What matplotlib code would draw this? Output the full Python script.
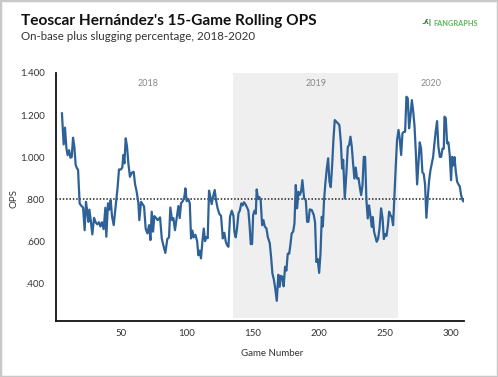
import matplotlib
matplotlib.use("Agg")
import matplotlib.pyplot as plt
from matplotlib.patches import Rectangle

plt.rcParams['font.family'] = ['Lato', 'DejaVu Sans']

games = [5.5, 6.8, 7.8, 8.9, 9.8, 10.9, 11.9, 12.9, 13.9, 14.9, 15.9, 16.9, 17.7, 18.9, 20.2, 21.5, 22.7, 23.7, 24.7, 25.5,
         26.3, 27.3, 28.5, 29.8, 31, 32.3, 33.5, 34.6, 35.8, 37.1, 38.4, 39.1, 40.4, 41.4, 42.4, 43.4, 44.7,
         46.7, 47.7, 48.7, 50.2, 51.2, 52, 52.8, 53.8, 54.8, 55.8, 57, 58.3, 59.8, 60.9, 62.1, 63.4, 64.1, 65.4,
         66.7, 67.7, 68.9, 70.2, 71.5, 72.5, 73.5, 74.5, 75.5, 76.8, 78, 79.8, 81.1, 82.3, 83.8, 85.3, 86.6,
         87.6, 88.9, 89.9, 91.1, 92.4, 93.7, 94.7, 95.7, 97, 98.2, 99, 100, 101.3, 102.3, 103.3, 104.3, 105.3,
         106.6, 107.9, 108.8, 109.8, 110.8, 111.9, 112.9, 113.9, 114.9, 115.9, 116.9, 117.9, 118.9, 119.9,
         121.2, 122.2, 123.4, 124.7, 126, 127.3, 128.5, 129.5, 130.5, 131.6, 132.8, 134.1, 135.4,
         136.1, 137.1, 138.1, 139.2, 140.2, 141.4, 142.4, 143.4, 144.5, 145.7, 146.7, 147.7, 148.5, 149.5,
         150.3, 151.3, 152.3, 153, 154, 155, 156, 157.1, 158.1, 159.1, 160.4, 161.4, 162.9, 163.9, 164.9,
         165.9, 166.9, 168.2, 169.4, 170.4, 171.4, 172.4, 173.4, 174.5, 175.5, 176.5, 177.6, 178.5, 179.5,
         180.6, 181.6, 182.6, 183.6, 184.6, 185.6, 186.6, 187.6, 188.9, 190.2, 191.2, 192.2, 193.2, 194.7,
         196.2, 197.2, 198.2, 199.2, 200.3, 201.3, 202.3, 203.1, 204, 205, 206.1, 207.1, 208.1, 209.1,
         210.1, 211.1, 212.1, 213.4, 214.6, 215.6, 216.7, 217.7, 218.5, 219.7, 220.9, 222, 223, 224, 225,
         226, 227, 228, 229, 230.1, 231.1, 232.1, 233.1, 234.1, 235.1, 236.1, 237.1, 238.1, 239.1, 240.2,
         240.9, 241.9, 242.9, 243.9, 244.9, 246, 247.2, 248.3, 249.3, 250.3, 251.3, 252.3, 253.3, 254.3,
         255.3, 256.3, 257.3, 258.3, 259.3, 260.4, 261.3, 262.4, 263.4, 264.4, 265.4, 266.4, 267.4, 268.4,
         269.4, 270.5, 271.5, 272.5, 273.5, 274.5, 275.5, 276.5, 277.5, 278.5, 279.5, 280.5, 281.5, 282.6,
         283.6, 284.6, 285.6, 286.6, 287.6, 288.6, 289.6, 290.6, 291.7, 292.7, 293.7, 294.7, 295.2, 296.2,
         297.2, 298.2, 299.2, 300.2, 301, 301.8, 302.8, 303.8, 304.8, 305.8, 306.8, 307.8, 308.9, 309.5]

ops = [1.208, 1.06, 1.14, 1.041, 1.009, 1.033, 0.997, 1.00, 1.092, 1.049, 0.962, 0.946, 0.94, 0.779, 0.768, 0.76, 0.652, 0.787, 0.74, 0.692,
       0.75, 0.70, 0.632, 0.711, 0.69, 0.68, 0.69, 0.67, 0.69, 0.657, 0.759, 0.621, 0.78, 0.75, 0.795, 0.72, 0.676,
       0.795, 0.859, 0.941, 0.941, 0.95, 1.01, 0.97, 1.089, 1.05, 0.97, 0.906, 0.925, 0.93, 0.87, 0.835, 0.78, 0.70, 0.787,
       0.775, 0.765, 0.66, 0.637, 0.676, 0.605, 0.74, 0.645, 0.719, 0.71, 0.70, 0.713, 0.613, 0.58, 0.544, 0.61, 0.618,
       0.76, 0.70, 0.71, 0.652, 0.71, 0.767, 0.71, 0.78, 0.79, 0.81, 0.851, 0.79, 0.80, 0.78, 0.613, 0.65, 0.618,
       0.63, 0.60, 0.533, 0.555, 0.518, 0.60, 0.66, 0.60, 0.62, 0.614, 0.84, 0.81, 0.776, 0.81,
       0.843, 0.795, 0.756, 0.73, 0.72, 0.613, 0.64, 0.60, 0.581, 0.573, 0.716, 0.745, 0.72,
       0.645, 0.618, 0.66, 0.732, 0.745, 0.78, 0.77, 0.785, 0.775, 0.76, 0.745, 0.668, 0.586, 0.586,
       0.724, 0.745, 0.73, 0.846, 0.80, 0.81, 0.795, 0.676, 0.70, 0.67, 0.66, 0.62, 0.59, 0.525, 0.446,
       0.42, 0.382, 0.316, 0.44, 0.383, 0.435, 0.43, 0.385, 0.478, 0.46, 0.54, 0.54, 0.581, 0.637,
       0.645, 0.684, 0.867, 0.756, 0.835, 0.82, 0.835, 0.89, 0.803, 0.795, 0.692, 0.692, 0.751, 0.748,
       0.725, 0.69, 0.501, 0.515, 0.449, 0.54, 0.716, 0.67, 0.795, 0.875, 0.946, 0.994, 0.883, 0.857,
       0.955, 1.081, 1.176, 1.168, 1.16, 1.152, 1.073, 0.946, 0.987, 0.803, 0.92, 1.049, 1.057, 1.097, 1.05,
       0.97, 0.898, 0.95, 0.898, 0.90, 0.857, 0.819, 0.865, 1.001, 1.001, 0.795, 0.708, 0.77, 0.72, 0.668,
       0.715, 0.644, 0.62, 0.597, 0.61, 0.66, 0.756, 0.71, 0.61, 0.633, 0.625, 0.67, 0.74, 0.724,
       0.715, 0.676, 0.82, 0.954, 1.081, 1.129, 1.089, 1.01, 1.113, 1.12, 1.12, 1.287, 1.28, 1.137,
       1.19, 1.271, 1.22, 1.15, 1.025, 0.87, 0.97, 1.07, 1.04, 0.927, 0.92, 0.87, 0.711, 0.811,
       0.89, 0.938, 0.97, 1.0, 1.065, 1.124, 1.171, 1.05, 1.001, 1.001, 1.04, 1.04, 1.192, 1.185,
       1.065, 1.07, 1.01, 0.89, 1.001, 0.96, 1.0, 0.93, 0.883, 0.87, 0.86, 0.819, 0.795, 0.79]

season_labels = ['2018', '2019', '2020']
season_label_x = [70.5, 197.7, 284.8]
span_2019 = [135, 260]
league_avg = 0.8
yticks = [0.4, 0.6, 0.8, 1.0, 1.2, 1.4]
ytick_labels = ['.400', '.600', '.800', '1.000', '1.200', '1.400']
xticks = [50, 100, 150, 200, 250, 300]

W, H = 498, 377
fig = plt.figure(figsize=(W / 100, H / 100), dpi=100)
ax = fig.add_axes([56 / W, 1 - 321 / H, (464 - 56) / W, (321 - 73) / H])

ax.axvspan(span_2019[0], span_2019[1], ymin=0.012, ymax=1, color='#efefef', lw=0, zorder=0)
ax.axhline(league_avg, color='#222222', lw=1.1, ls=(0, (1, 1.2)), zorder=1)
ax.plot(games, ops, color='#2e6197', lw=1.6, zorder=2, solid_joinstyle='round')

for lab, xx in zip(season_labels, season_label_x):
    ax.text(xx, 1.348, lab, color='#888888', fontsize=6.5, ha='center', va='center')

ax.set_xlim(1, 310)
ax.set_ylim(0.22, 1.4)
ax.set_xticks(xticks)
ax.set_yticks(yticks)
ax.set_yticklabels(ytick_labels)
ax.tick_params(axis='both', length=0, labelsize=7, colors='#333333')
ax.tick_params(axis='x', pad=6)
ax.tick_params(axis='y', pad=8)
for s in ['top', 'right']:
    ax.spines[s].set_visible(False)
for s in ['left', 'bottom']:
    ax.spines[s].set_linewidth(1.3)
    ax.spines[s].set_color('#111111')
ax.set_facecolor('none')

fig.text(272 / W, 1 - 353 / H, 'Game Number', fontsize=7, color='#333333', ha='center', va='center')
fig.text(14 / W, 1 - 199 / H, 'OPS', fontsize=7, color='#333333', ha='center', va='center', rotation=90)

fig.text(21 / W, 1 - 21 / H, "Teoscar Hernández's 15-Game Rolling OPS", fontsize=11.1,
         fontweight='bold', color='#111111', ha='left', va='center')
fig.text(21 / W, 1 - 37 / H, "On-base plus slugging percentage, 2018-2020", fontsize=8.3,
         color='#333333', ha='left', va='center')
fig.text(433 / W, 1 - 23 / H, "FANGRAPHS", fontsize=5.3, fontweight='bold', color='#5cb85c',
         ha='left', va='center')
fig.text(432 / W, 1 - 23 / H, ".ʎ|", fontsize=5.3, fontweight='bold', color='#2a7a2a',
         ha='right', va='center', family=['DejaVu Sans'])

fig.patches.append(Rectangle((0, 0), 1, 1, transform=fig.transFigure, fill=False,
                             edgecolor='#c8c8c8', lw=2.5))

fig.savefig('out.png', dpi=100)
